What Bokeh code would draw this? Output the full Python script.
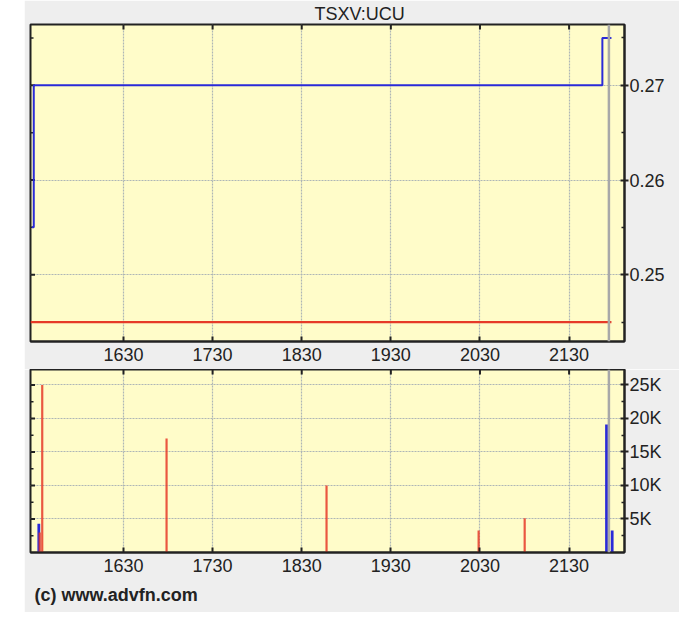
import math
from bokeh.plotting import figure
from bokeh.models import (Range1d, FixedTicker, Span, Title,
                          ColumnDataSource, Spacer)
from bokeh.layouts import column, row
from bokeh.embed import file_html
from bokeh.resources import INLINE

# ---------------- data ----------------
symbol = "TSXV:UCU"
footer = "(c) www.advfn.com"

# x axis: minutes since midnight, labelled as HHMM
hour_ticks = [990, 1050, 1110, 1170, 1230, 1290]
hour_labels = ["1630", "1730", "1830", "1930", "2030", "2130"]

# price (step line)
price_time = [928.3, 929.6, 1312.4, 1318.5]
price_value = [0.255, 0.27, 0.275, 0.275]

# reference (previous close) line
ref_time = [927.4, 1318.5]
ref_value = [0.245, 0.245]

# current time marker
marker_time = 1316.8

price_ticks = [0.25, 0.26, 0.27]
price_labels = ["0.25", "0.26", "0.27"]
price_minor = [0.245, 0.255, 0.265, 0.275]

# volume bars
buy_time = [933.0, 1315.2, 1319.0]
buy_volume = [4300, 19100, 3300]
sell_time = [933.6, 935.3, 1019.0, 1126.7, 1229.1, 1260.1]
sell_volume = [3000, 25000, 17000, 10000, 3300, 5100]

vol_ticks = [5000, 10000, 15000, 20000, 25000]
vol_labels = ["5K", "10K", "15K", "20K", "25K"]
vol_minor = [2500, 7500, 12500, 17500, 22500]

# ---------------- style ----------------
BG = "#eeeeee"
PLOT_BG = "#fffcc9"
BLUE = "#2a2ad8"
RED = "#e63a28"
GRID = "#aeb6b6"
FONT = "Liberation Sans"
TXT = "#222222"
FS = "18px"

X0, X1 = 927.4, 1327.3
P0, P1 = 0.24295, 0.27642
V0, V1 = 0, 27300


def style_axes(p, yticks, ylabels, yminor, ylo, yhi):
    xt = FixedTicker(ticks=hour_ticks, minor_ticks=[])
    yt = FixedTicker(ticks=yticks, minor_ticks=yminor)

    for ax in p.xaxis:
        ax.ticker = xt
        ax.major_label_overrides = {t: l for t, l in zip(hour_ticks, hour_labels)}
        ax.major_tick_in = 5
        ax.major_tick_out = 0
        ax.minor_tick_in = 0
        ax.minor_tick_out = 0
        ax.major_label_standoff = 6
    for ax in p.yaxis:
        ax.ticker = yt
        ax.major_label_overrides = {t: l for t, l in zip(yticks, ylabels)}
        ax.major_tick_in = 4
        ax.major_tick_out = 4
        ax.minor_tick_in = 3
        ax.minor_tick_out = 0
        ax.major_label_standoff = 1
    for ax in p.axis:
        ax.axis_line_color = TXT
        ax.axis_line_width = 2
        ax.major_tick_line_color = TXT
        ax.minor_tick_line_color = TXT
        ax.major_tick_line_width = 2
        ax.minor_tick_line_width = 1.5
        ax.major_label_text_font = FONT
        ax.major_label_text_font_size = FS
        ax.major_label_text_color = TXT

    p.xgrid.ticker = xt
    p.ygrid.ticker = yt
    for g in (p.xgrid, p.ygrid):
        g.grid_line_color = GRID
        g.grid_line_dash = "2 1"
        g.grid_line_width = 1.2

    # inward tick marks on the top and left frame edges (half clipped by the frame)
    p.scatter(x=hour_ticks, y=[yhi] * len(hour_ticks), marker="dash",
              angle=math.pi / 2, size=10, line_color=TXT, line_width=2)
    p.scatter(x=[X0] * len(yticks), y=yticks, marker="dash",
              size=9, line_color=TXT, line_width=2)
    p.scatter(x=[X0] * len(yminor), y=yminor, marker="dash",
              size=6, line_color=TXT, line_width=1.5)

    p.add_layout(Span(location=marker_time, dimension="height",
                      line_color="#a8a8a8", line_width=2.5))


def make_fig(fh, ylo, yhi, btop, bbot):
    return figure(frame_width=594, frame_height=fh,
                  x_range=Range1d(X0, X1), y_range=Range1d(ylo, yhi),
                  y_axis_location="right", x_axis_location="below",
                  output_backend="svg", toolbar_location=None,
                  min_border_left=6, min_border_right=55,
                  min_border_top=btop, min_border_bottom=bbot,
                  background_fill_color=PLOT_BG, border_fill_color=BG,
                  outline_line_color=TXT, outline_line_width=2)


# ---------------- price panel ----------------
p1 = make_fig(317, P0, P1, 24, 28)
p1.title.text = symbol
p1.title.align = "left"
p1.title.offset = 284
p1.title.text_font = FONT
p1.title.text_font_size = FS
p1.title.text_font_style = "normal"
p1.title.text_color = TXT
p1.title.standoff = 2

style_axes(p1, price_ticks, price_labels, price_minor, P0, P1)

p1.line(ref_time, ref_value, line_color=RED, line_width=2.2)
p1.step(price_time, price_value, mode="after", line_color=BLUE, line_width=2)

# ---------------- volume panel ----------------
p2 = make_fig(183, V0, V1, 0, 58)
style_axes(p2, vol_ticks, vol_labels, vol_minor, V0, V1)

buy_src = ColumnDataSource(dict(t=buy_time, v=buy_volume, z=[0] * len(buy_time)))
sell_src = ColumnDataSource(dict(t=sell_time, v=sell_volume, z=[0] * len(sell_time)))
p2.segment(x0="t", y0="z", x1="t", y1="v", source=buy_src,
           line_color=BLUE, line_width=2.8)
p2.segment(x0="t", y0="z", x1="t", y1="v", source=sell_src,
           line_color=RED, line_width=2.2, line_alpha=0.85)

foot = Title(text=footer, align="left", offset=4, text_font=FONT,
             text_font_size=FS, text_font_style="bold",
             text_color=TXT, standoff=16)
p2.add_layout(foot, "below")

layout = row(Spacer(width=24), column(p1, p2))

open("out.html", "w").write(file_html(layout, INLINE))
